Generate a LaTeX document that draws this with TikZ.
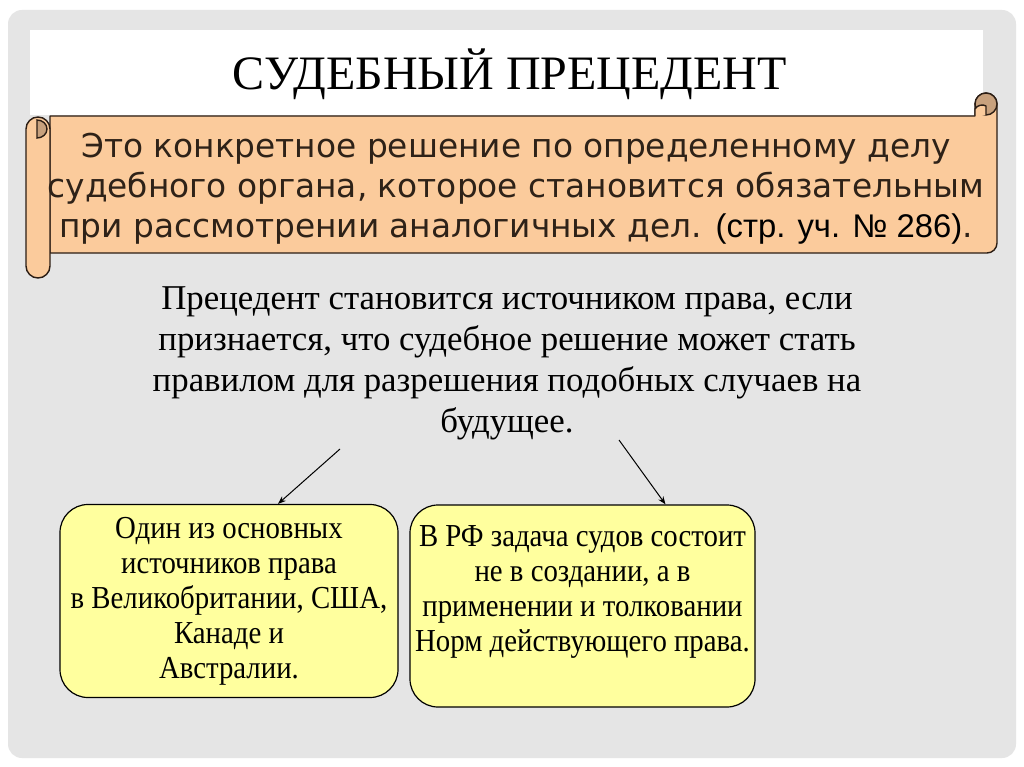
\documentclass[tikz,border=0pt]{standalone}
\usepackage{fontspec}
\setmainfont{Liberation Serif}
\newfontfamily\gothicfont{DejaVu Sans}
\newfontfamily\arialfont{Liberation Sans}
\newfontfamily\boxfont[FakeStretch=0.9]{Liberation Serif}
\usetikzlibrary{arrows.meta}

\definecolor{slidegray}{HTML}{E5E5E5}
\definecolor{scrollfill}{HTML}{FBCB9C}
\definecolor{curlfill}{HTML}{C8A17D}
\definecolor{scrolledge}{HTML}{2B1D14}
\definecolor{scrolltext}{HTML}{2E2218}
\definecolor{boxfill}{HTML}{FFFF9E}

\tikzset{
  scrollpart/.style={fill=scrollfill, draw=scrolledge, line width=1.4pt, line join=round},
  curlpart/.style={fill=curlfill, draw=scrolledge, line width=1.4pt},
  ybox/.style={draw=black, fill=boxfill, line width=1.2pt, rounded corners=28pt,
    align=center, inner sep=2pt, font=\boxfont\fontsize{32}{35}\selectfont},
  arr/.style={-{Stealth[length=8pt,width=6pt]}, line width=1pt},
}

\begin{document}
\begin{tikzpicture}[x=1pt,y=-1pt]
  \useasboundingbox (0,0) rectangle (1024,767);
  %%%%%%%%%%%%%The slide%%%%%%%%%%%%%%%%%%%%%%
  \fill[white] (0,0) rectangle (1024,767);
  \fill[slidegray, rounded corners=14pt] (8,10) rectangle (1016,758);
  \fill[white] (30,30) rectangle (983,115);

  \node[anchor=base, font=\fontsize{48}{48}\selectfont] (title) at (510,90) {СУДЕБНЫЙ ПРЕЦЕДЕНТ};

  %%%%%%%%%%%%%The scroll%%%%%%%%%%%%%%%%%%%%%%
  \draw[scrollpart] (50,116) -- (975,116) -- (975,104)
    arc[start angle=180, end angle=0, radius=11pt] -- (997,243)
    arc[start angle=0, end angle=-90, radius=10pt] -- (50,253) -- cycle;
  \draw[curlpart] (986,104) circle[radius=11pt];
  \draw[scrollpart] (975,115) -- (975,109) .. controls (977,105) and (983,104) .. (986,106) -- (986,115);
  \draw[scrollpart] (26,129) arc[start angle=180, end angle=0, radius=12pt] -- (50,266)
    arc[start angle=0, end angle=-180, radius=12pt] -- cycle;
  \draw[curlpart] (37,120) arc[start angle=90, end angle=-90, x radius=10pt, y radius=9pt] -- cycle;

  \node[font=\gothicfont\fontsize{32.8}{40}\selectfont, text=scrolltext, align=center] (def) at (516,189)
    {Это конкретное решение по определенному делу\\
     судебного органа, которое становится обязательным\\
     при рассмотрении аналогичных дел. {\arialfont\color{black}(стр. уч. № 286)}.};

  %%%%%%%%%%%%%The rule%%%%%%%%%%%%%%%%%%%%%%
  \node[font=\fontsize{34.8}{41}\selectfont, align=center] (rule) at (507,363)
    {Прецедент становится источником права, если\\
     признается, что судебное решение может стать\\
     правилом для разрешения подобных случаев на\\
     будущее.};

  \node[ybox, minimum width=338pt, minimum height=193pt] (lbox) at (229,601)
    {Один из основных\\ источников права\\ в Великобритании, США,\\ Канаде и\\ Австралии.};
  \node[ybox, minimum width=345pt, minimum height=202pt] (rbox) at (582.5,606)
    {В РФ задача судов состоит\\ не в создании, а в\\ применении и толковании\\ Норм действующего права.\\ \mbox{}};

  \coordinate (s1) at (340,449);
  \coordinate (s2) at (619,440);
  \draw[arr] (s1) -- ([xshift=49pt]lbox.north);
  \draw[arr] (s2) -- ([xshift=83pt]rbox.north);
\end{tikzpicture}
\end{document}
